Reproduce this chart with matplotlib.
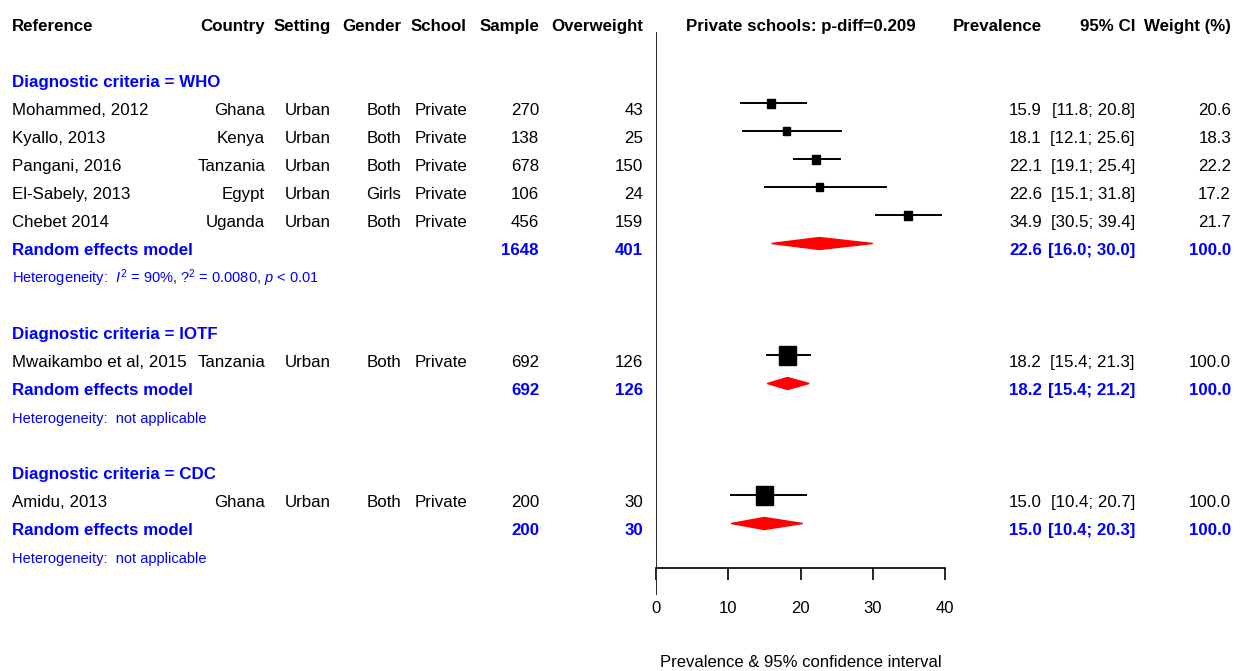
import matplotlib.pyplot as plt
from matplotlib.patches import Rectangle, Polygon

plt.rcParams['font.family'] = ['Liberation Sans', 'DejaVu Sans']
plt.rcParams['mathtext.fontset'] = 'custom'
plt.rcParams['mathtext.rm'] = 'Liberation Sans'
plt.rcParams['mathtext.it'] = 'Liberation Sans:italic'

### study level data
study   = ["Mohammed, 2012", "Kyallo, 2013", "Pangani, 2016", "El-Sabely, 2013",
           "Chebet 2014", "Mwaikambo et al, 2015", "Amidu, 2013"]
group   = ["WHO", "WHO", "WHO", "WHO", "WHO", "IOTF", "CDC"]
country = ["Ghana", "Kenya", "Tanzania", "Egypt", "Uganda", "Tanzania", "Ghana"]
setting = ["Urban"] * 7
gender  = ["Both", "Both", "Both", "Girls", "Both", "Both", "Both"]
school  = ["Private"] * 7
sample  = [270, 138, 678, 106, 456, 692, 200]
events  = [43, 25, 150, 24, 159, 126, 30]
prev    = [15.9, 18.1, 22.1, 22.6, 34.9, 18.2, 15.0]
ci_lo   = [11.8, 12.1, 19.1, 15.1, 30.5, 15.4, 10.4]
ci_hi   = [20.8, 25.6, 25.4, 31.8, 39.4, 21.3, 20.7]
weight  = [20.6, 18.3, 22.2, 17.2, 21.7, 100.0, 100.0]

### pooled (random effects) per subgroup
groups    = ["WHO", "IOTF", "CDC"]
pool_n    = [1648, 692, 200]
pool_ev   = [401, 126, 30]
pool_est  = [22.6, 18.2, 15.0]
pool_lo   = [16.0, 15.4, 10.4]
pool_hi   = [30.0, 21.2, 20.3]
pool_w    = [100.0, 100.0, 100.0]
het_text  = [r"Heterogeneity:  $I^2$ = 90%, ?$^2$ = 0.0080, $p$ < 0.01",
             "Heterogeneity:  not applicable",
             "Heterogeneity:  not applicable"]

headers = ["Reference", "Country", "Setting", "Gender", "School", "Sample", "Overweight"]
title_plot = "Private schools: p-diff=0.209"
xticks = [0, 10, 20, 30, 40]

BLUE = '#0000ff'
RED = '#ff0000'
FS = 12.2

fig = plt.figure(figsize=(12.4, 6.71), dpi=100)
ax = fig.add_axes([0, 0, 1, 1])
ax.set_xlim(0, 1240)
ax.set_ylim(671, 0)
ax.axis('off')

# forest panel: 0 -> 656px, 40 -> 945px
fx = fig.add_axes([656 / 1240, 0, 289 / 1240, 1])
fx.patch.set_alpha(0)
fx.set_xlim(0, 40)
fx.set_ylim(671, 0)
for s in ['top', 'right', 'left']:
    fx.spines[s].set_visible(False)
fx.spines['bottom'].set_position(('data', 568))
fx.spines['bottom'].set_linewidth(1.2)
fx.set_yticks([])
fx.set_xticks(xticks)
fx.tick_params(axis='x', direction='out', length=8.6, width=1.2, pad=15, labelsize=12)
fx.vlines(0, 32, 595, color='#333333', lw=1.5)
fx.text(20, 667, "Prevalence & 95% confidence interval", ha='center', va='baseline', fontsize=12)

# column right edges (pixels)
col_x = {"Country": 265, "Setting": 331, "Gender": 401, "School": 467,
         "Sample": 539, "Overweight": 643}
X_PREV, X_CI, X_W = 1042, 1135, 1231

def base(k):
    return 115 + 28 * k

# header
hy = base(-3)
ax.text(12, hy, headers[0], fontsize=FS, fontweight='bold', va='baseline')
for h in headers[1:]:
    ax.text(col_x[h], hy, h, fontsize=FS, fontweight='bold', va='baseline', ha='right')
fx.text(20, hy, title_plot, fontsize=FS, fontweight='bold', va='baseline', ha='center')
ax.text(X_PREV, hy, "Prevalence", fontsize=FS, fontweight='bold', va='baseline', ha='right')
ax.text(X_CI, hy, "95% CI", fontsize=FS, fontweight='bold', va='baseline', ha='right')
ax.text(X_W, hy, "Weight (%)", fontsize=FS, fontweight='bold', va='baseline', ha='right')

k = -1
for g, gname in enumerate(groups):
    ax.text(12, base(k), f"Diagnostic criteria = {gname}", fontsize=FS,
            fontweight='bold', color=BLUE, va='baseline')
    k += 1
    for i in range(len(study)):
        if group[i] != gname:
            continue
        y = base(k)
        ym = y - 11.7
        ax.text(12, y, study[i], fontsize=FS, va='baseline')
        for key, val in zip(["Country", "Setting", "Gender", "School", "Sample", "Overweight"],
                            [country[i], setting[i], gender[i], school[i], sample[i], events[i]]):
            ax.text(col_x[key], y, str(val), fontsize=FS, va='baseline', ha='right')
        ax.text(X_PREV, y, f"{prev[i]:.1f}", fontsize=FS, va='baseline', ha='right')
        ax.text(X_CI, y, f"[{ci_lo[i]:.1f}; {ci_hi[i]:.1f}]", fontsize=FS, va='baseline', ha='right')
        ax.text(X_W, y, f"{weight[i]:.1f}", fontsize=FS, va='baseline', ha='right')
        fx.plot([ci_lo[i], ci_hi[i]], [ym, ym], color='black', lw=1.4, clip_on=False)
        side = 17 * (weight[i] / 100) ** 0.5
        w = side / 7.225
        h = side * 1.15
        fx.add_patch(Rectangle((prev[i] - w / 2, ym - h / 2), w, h, color='black',
                               clip_on=False, zorder=3))
        k += 1
    # random effects row
    y = base(k)
    ym = y - 11.5
    ax.text(12, y, "Random effects model", fontsize=FS, fontweight='bold', color=BLUE, va='baseline')
    ax.text(col_x["Sample"], y, str(pool_n[g]), fontsize=FS, fontweight='bold', color=BLUE,
            va='baseline', ha='right')
    ax.text(col_x["Overweight"], y, str(pool_ev[g]), fontsize=FS, fontweight='bold', color=BLUE,
            va='baseline', ha='right')
    ax.text(X_PREV, y, f"{pool_est[g]:.1f}", fontsize=FS, fontweight='bold', color=BLUE,
            va='baseline', ha='right')
    ax.text(X_CI, y, f"[{pool_lo[g]:.1f}; {pool_hi[g]:.1f}]", fontsize=FS, fontweight='bold',
            color=BLUE, va='baseline', ha='right')
    ax.text(X_W, y, f"{pool_w[g]:.1f}", fontsize=FS, fontweight='bold', color=BLUE,
            va='baseline', ha='right')
    fx.add_patch(Polygon([(pool_lo[g], ym), (pool_est[g], ym - 6), (pool_hi[g], ym),
                          (pool_est[g], ym + 6)], closed=True, color=RED, clip_on=False))
    k += 1
    ax.text(12, base(k), het_text[g], fontsize=10.5, color=BLUE, va='baseline')
    k += 2

plt.savefig('out.png', dpi=100)
